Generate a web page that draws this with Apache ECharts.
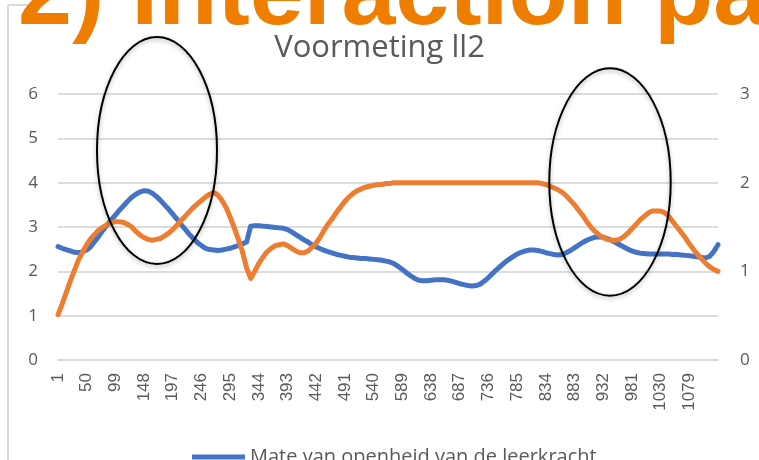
<!DOCTYPE html>
<html>
<head>
<meta charset="utf-8">
<script src="https://cdn.jsdelivr.net/npm/echarts@6/dist/echarts.min.js"></script>
<style>
  html, body { margin: 0; padding: 0; background: #fff; }
  #grafico { width: 759px; height: 460px; }
</style>
</head>
<body>
<div id="grafico"></div>
<script>
// meetmomenten (stap van 7)
const momenten = [];
for (let i = 0; i < 162; i++) momenten.push(String(1 + 7 * i));

// Mate van openheid van de leerkracht (linker as)
const openheid = [
  2.56, 2.52, 2.49, 2.46, 2.43, 2.42, 2.44, 2.48, 2.56, 2.68,
  2.8, 2.93, 3.05, 3.16, 3.27, 3.38, 3.48, 3.58, 3.67, 3.74,
  3.79, 3.82, 3.81, 3.76, 3.69, 3.6, 3.5, 3.4, 3.29, 3.18,
  3.06, 2.95, 2.84, 2.74, 2.65, 2.58, 2.52, 2.49, 2.48, 2.47,
  2.48, 2.5, 2.52, 2.55, 2.58, 2.62, 2.66, 3.02, 3.03, 3.03,
  3.02, 3.01, 3.0, 2.99, 2.98, 2.97, 2.94, 2.89, 2.83, 2.77,
  2.71, 2.66, 2.6, 2.55, 2.51, 2.47, 2.44, 2.41, 2.38, 2.36,
  2.34, 2.32, 2.31, 2.3, 2.29, 2.29, 2.28, 2.27, 2.26, 2.25,
  2.23, 2.21, 2.17, 2.11, 2.04, 1.97, 1.9, 1.84, 1.8, 1.79,
  1.79, 1.8, 1.81, 1.81, 1.81, 1.8, 1.78, 1.75, 1.72, 1.7,
  1.68, 1.67, 1.68, 1.71, 1.78, 1.86, 1.95, 2.04, 2.12, 2.2,
  2.27, 2.33, 2.39, 2.43, 2.46, 2.48, 2.48, 2.47, 2.45, 2.42,
  2.4, 2.38, 2.37, 2.38, 2.42, 2.47, 2.53, 2.59, 2.65, 2.7,
  2.74, 2.77, 2.78, 2.77, 2.74, 2.7, 2.65, 2.6, 2.55, 2.5,
  2.46, 2.43, 2.41, 2.4, 2.39, 2.39, 2.39, 2.39, 2.39, 2.39,
  2.38, 2.38, 2.37, 2.36, 2.35, 2.34, 2.33, 2.31, 2.3, 2.34,
  2.45, 2.6
];

// tweede reeks (secundaire as)
const interactie = [
  0.51, 0.63, 0.76, 0.89, 1.01, 1.13, 1.22, 1.3, 1.37, 1.42,
  1.47, 1.5, 1.53, 1.55, 1.56, 1.56, 1.55, 1.53, 1.5, 1.45,
  1.41, 1.38, 1.36, 1.35, 1.36, 1.37, 1.4, 1.43, 1.47, 1.52,
  1.57, 1.62, 1.67, 1.72, 1.76, 1.8, 1.84, 1.87, 1.89, 1.86,
  1.8, 1.72, 1.61, 1.49, 1.36, 1.22, 1.04, 0.92, 1.0, 1.09,
  1.16, 1.22, 1.26, 1.29, 1.3, 1.31, 1.29, 1.26, 1.23, 1.21,
  1.21, 1.23, 1.27, 1.32, 1.39, 1.47, 1.54, 1.6, 1.67, 1.73,
  1.79, 1.84, 1.88, 1.91, 1.93, 1.95, 1.96, 1.97, 1.98, 1.98,
  1.99, 1.99, 2, 2, 2, 2, 2, 2, 2, 2,
  2, 2, 2, 2, 2, 2, 2, 2, 2, 2,
  2, 2, 2, 2, 2, 2, 2, 2, 2, 2,
  2, 2, 2, 2, 2, 2, 2, 2, 1.99, 1.98,
  1.96, 1.94, 1.92, 1.89, 1.85, 1.8, 1.75, 1.69, 1.63, 1.56,
  1.5, 1.45, 1.41, 1.38, 1.36, 1.35, 1.35, 1.36, 1.39, 1.43,
  1.48, 1.53, 1.58, 1.62, 1.66, 1.68, 1.68, 1.68, 1.66, 1.62,
  1.56, 1.5, 1.44, 1.38, 1.31, 1.25, 1.19, 1.14, 1.09, 1.05,
  1.02, 1.0
];

const grijs = '#595959';

document.addEventListener('DOMContentLoaded', function () {
  const chart = echarts.init(document.getElementById('grafico'));

  chart.setOption({
    animation: false,
    title: {
      text: 'Voormeting ll2',
      left: 'center',
      top: 28,
      textStyle: { fontFamily: 'Open Sans', fontSize: 31, fontWeight: 'normal', color: grijs }
    },
    legend: {
      data: ['Mate van openheid van de leerkracht'],
      left: 187,
      top: 442,
      icon: 'rect',
      itemWidth: 53,
      itemHeight: 5,
      itemGap: 6,
      textStyle: { fontFamily: 'Open Sans', fontSize: 20, color: grijs }
    },
    grid: { left: 58, right: 41, top: 94, bottom: 100 },
    xAxis: {
      type: 'category',
      data: momenten,
      boundaryGap: false,
      axisTick: { show: false },
      axisLine: { lineStyle: { color: '#D9D9D9', width: 2 } },
      axisLabel: {
        rotate: 90,
        margin: 13,
        interval: function (idx) { return idx % 7 === 0 && idx < 161; },
        fontFamily: 'Liberation Sans',
        fontSize: 17,
        color: grijs
      }
    },
    yAxis: [
      {
        type: 'value', min: 0, max: 6, interval: 1,
        axisLabel: { fontFamily: 'Open Sans', fontSize: 17, color: grijs, margin: 20 },
        splitLine: { lineStyle: { color: '#DCDCDC', width: 2 } }
      },
      {
        type: 'value', min: 0, max: 3, interval: 1,
        axisLabel: { fontFamily: 'Open Sans', fontSize: 17, color: grijs, margin: 22 },
        splitLine: { show: false }
      }
    ],
    series: [
      {
        name: 'Mate van openheid van de leerkracht',
        type: 'line',
        data: openheid,
        yAxisIndex: 0,
        showSymbol: false,
        itemStyle: { color: '#4472C4' },
        lineStyle: { color: '#4472C4', width: 5, join: 'round', cap: 'round' },
        z: 3
      },
      {
        name: 'Interactie',
        type: 'line',
        data: interactie,
        yAxisIndex: 1,
        showSymbol: false,
        itemStyle: { color: '#ED7D31' },
        lineStyle: { color: '#ED7D31', width: 5, join: 'round', cap: 'round' },
        z: 4
      }
    ],
    graphic: [
      {
        type: 'line', z: 1,
        shape: { x1: 8, y1: 5, x2: 8, y2: 460 },
        style: { stroke: '#D9D9D9', lineWidth: 2 }
      },
      {
        type: 'line', z: 1,
        shape: { x1: 8, y1: 5, x2: 30, y2: 5 },
        style: { stroke: '#D9D9D9', lineWidth: 2 }
      },
      {
        type: 'ellipse', z: 100,
        shape: { cx: 157, cy: 150.5, rx: 60, ry: 113.5 },
        style: { fill: null, stroke: '#000', lineWidth: 2, shadowBlur: 4, shadowColor: 'rgba(0,0,0,0.3)', shadowOffsetY: 2 }
      },
      {
        type: 'ellipse', z: 100,
        shape: { cx: 610, cy: 182, rx: 60.7, ry: 113.7 },
        style: { fill: null, stroke: '#000', lineWidth: 2, shadowBlur: 4, shadowColor: 'rgba(0,0,0,0.3)', shadowOffsetY: 2 }
      },
      {
        type: 'text', z: 100,
        left: 18, top: -51,
        style: {
          text: '2) Interaction pa',
          font: 'bold 97px "Liberation Sans"',
          fill: '#EE7D00'
        }
      }
    ]
  });
});
</script>
</body>
</html>
